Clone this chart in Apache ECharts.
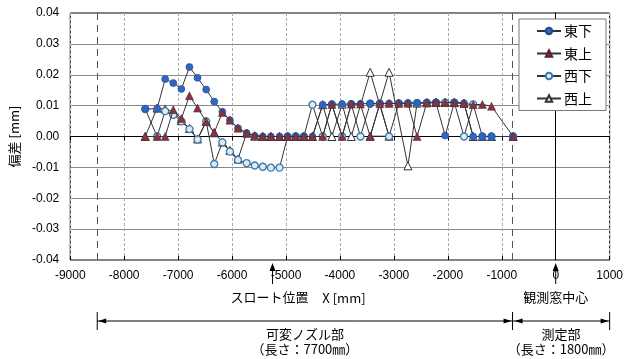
<!DOCTYPE html>
<html>
<head>
<meta charset="utf-8">
<script src="https://cdn.jsdelivr.net/npm/echarts@6/dist/echarts.min.js"></script>
<style>html,body{margin:0;padding:0;background:#fff}#c{width:626px;height:359px}</style>
</head>
<body>
<div id="c"></div>
<script>
// ---- data ----
const seriesNames = ['東下', '東上', '西下', '西上'];
const xPositions = [-7610,-7390,-7240,-7090,-6940,-6790,-6640,-6480,-6330,-6180,-6040,-5890,-5730,-5580,-5430,-5280,-5120,-4970,-4820,-4670,-4510,-4320,-4150,-3960,-3790,-3620,-3440,-3260,-3090,-2910,-2740,-2570,-2390,-2220,-2050,-1880,-1700,-1530,-1360,-1190,-790];
const eastLower = [0.0089,0.0090,0.0186,0.0173,0.0154,0.0225,0.0190,0.0152,0.0113,0.0080,0.0053,0.0027,0.0011,0.0002,0,0,0,0,0,0,0,0.0103,0.0104,0.0105,0.0105,0.0106,0.0107,0.0107,0.0107,0.0108,0.0108,0.0109,0.0110,0.0110,0.0003,0.0110,0.0108,0,0,0,0];
const eastUpper = [0,0,0,0.0087,0.0058,0.0132,0.0092,0.0049,0.0013,0.0078,0.0053,0.0027,0.0011,0.0003,0,0,0,0,0,0,0,0,0.0104,0,0.0105,0.0105,0,0.0106,0.0107,0.0107,0.0108,0,0.0110,0.0111,0.0111,0.0110,0.0107,0.0103,0.0104,0.0098,0];
const westLower = [0.0089,0,0.0082,0.0070,0.0049,0.0024,-0.0010,0.0049,-0.0089,-0.0019,-0.0049,-0.0076,-0.0086,-0.0094,-0.0098,-0.0101,-0.0101,0,0,0,0.0103,0,0.0104,0,0.0105,0,0.0106,0.0106,0,0.0107,0.0107,0.0108,0.0109,0.0110,0.0110,0.0110,0,0.0104,0,0,0];
const westUpperX = [-7610,-7390,-7240,-7090,-6940,-6790,-6640,-6480,-6330,-6180,-6040,-5890,-5730,-5580,-5430,-5280,-5120,-4970,-4820,-4670,-4510,-4320,-4150,-3960,-3790,-3440,-3090,-3440,-3090,-2740,-2570,-2390,-2220,-2050,-1880,-1700,-1530,-1360,-1190,-790];
const westUpperY = [0,0.0092,0.0089,0.0080,0.0052,0.0026,-0.0008,0.0049,0.0012,-0.0018,-0.0045,-0.0073,0.0011,0.0001,0,0,0,0,0,0,0,0.0103,0,0.0105,0,0.0208,0.0001,0.0001,0.0208,-0.0095,0.0108,0.0109,0.0110,0.0110,0.0110,0.0108,0,0,0,0];
const yTicks = [-0.04,-0.03,-0.02,-0.01,0,0.01,0.02,0.03,0.04];
const xTicks = [-9000,-8000,-7000,-6000,-5000,-4000,-3000,-2000,-1000,0,1000];
// annotation positions (mm)
const nozzleStart = -8500, nozzleEnd = -800, measureEnd = 1000;
const throatX = -5250, windowX = 0;

const pairs = (xs, ys) => xs.map((x, i) => [x, ys[i]]);
const NUM = 'Liberation Sans';
const JP = 'Noto Sans CJK JP';

const chart = echarts.init(document.getElementById('c'), null, {renderer: 'canvas'});
const lineStyle = {color: '#333', width: 1};

const option = {
  animation: false,
  backgroundColor: '#fff',
  grid: {left: 68, right: 12, top: 13, bottom: 99, show: true, borderColor: '#000', borderWidth: 1, backgroundColor: 'transparent'},
  legend: {
    orient: 'vertical', left: 519, top: 19,
    data: seriesNames,
    itemWidth: 24, itemHeight: 8, itemGap: 8.5,
    padding: [5, 14, 5, 17],
    backgroundColor: '#fff', borderColor: '#777', borderWidth: 1,
    textStyle: {fontFamily: JP, fontSize: 14, color: '#000', padding: [0, 0, 0, -2]}
  },
  xAxis: [{
    type: 'value', min: xTicks[0], max: xTicks[xTicks.length - 1], interval: 1000,
    position: 'bottom',
    axisLine: {onZero: false, show: false},
    axisTick: {show: false},
    axisLabel: {fontFamily: NUM, fontSize: 12, color: '#000', margin: 10, formatter: v => String(v)},
    splitLine: {show: true, lineStyle: {color: '#aaa', type: [3, 2], width: 1}},
    name: 'X [mm]', nameLocation: 'middle', nameGap: 32,
    nameTextStyle: {fontFamily: JP, fontSize: 13, color: '#000', padding: [0, 0, 0, 8]}
  }, {
    type: 'value', min: xTicks[0], max: xTicks[xTicks.length - 1], interval: 1000,
    position: 'bottom',
    axisLine: {onZero: true, show: true, lineStyle: {color: '#000', width: 1}},
    axisTick: {show: true, inside: false, length: 4, lineStyle: {color: '#000'}},
    axisLabel: {show: false}, splitLine: {show: false}
  }, {
    type: 'value', min: xTicks[0], max: xTicks[xTicks.length - 1], interval: 1000,
    position: 'bottom',
    axisLine: {onZero: true, show: false},
    axisTick: {show: true, inside: true, length: 4, lineStyle: {color: '#000'}},
    axisLabel: {show: false}, splitLine: {show: false}
  }],
  yAxis: {
    type: 'value', min: yTicks[0], max: yTicks[yTicks.length - 1], interval: 0.01,
    axisLine: {show: true, lineStyle: {color: '#000'}},
    axisTick: {show: false},
    axisLabel: {fontFamily: NUM, fontSize: 12, color: '#000', margin: 11, formatter: v => v.toFixed(2)},
    splitLine: {show: true, lineStyle: {color: '#888', width: 1}},
    name: '偏差 [mm]', nameLocation: 'middle', nameGap: 48, nameRotate: 90,
    nameTextStyle: {fontFamily: JP, fontSize: 13, color: '#000'}
  },
  series: [{
    name: seriesNames[0], type: 'line', data: pairs(xPositions, eastLower),
    symbol: 'circle', symbolSize: 7, lineStyle,
    itemStyle: {color: '#2f66c4', borderColor: '#23488a', borderWidth: 0.6},
    markLine: {
      silent: true, symbol: 'none', label: {show: false},
      lineStyle: {color: '#555', type: [7, 5], width: 1},
      data: [{xAxis: nozzleStart}, {xAxis: nozzleEnd}]
    },
    z: 4
  }, {
    name: seriesNames[1], type: 'line', data: pairs(xPositions, eastUpper),
    symbol: 'triangle', symbolSize: 8, lineStyle,
    itemStyle: {color: '#82343f', borderColor: '#5a2030', borderWidth: 0.5},
    z: 5
  }, {
    name: seriesNames[2], type: 'line', data: pairs(xPositions, westLower),
    symbol: 'circle', symbolSize: 7, lineStyle,
    itemStyle: {color: '#dfeaf3', borderColor: '#3c78ab', borderWidth: 1.3},
    z: 3
  }, {
    name: seriesNames[3], type: 'line', data: pairs(westUpperX, westUpperY),
    symbol: 'triangle', symbolSize: 8, lineStyle,
    itemStyle: {color: '#ffffff', borderColor: '#333', borderWidth: 1},
    z: 2
  }]
};
chart.setOption(option);

// ---- annotations below the plot, placed through the axis scales ----
const X = v => chart.convertToPixel({xAxisIndex: 0}, v);
const Y = v => chart.convertToPixel({yAxisIndex: 0}, v);
const yb = Y(yTicks[0]);
const els = [];
const stroke = {stroke: '#000', lineWidth: 1};
function arrowUp(x) {
  els.push({type: 'line', shape: {x1: x, y1: yb + 24, x2: x, y2: yb + 6}, style: stroke, z: 100});
  els.push({type: 'polygon', shape: {points: [[x - 3, yb + 11], [x + 3, yb + 11], [x, yb + 3]]}, style: {fill: '#000'}, z: 100});
}
function text(x, y, s, size) {
  els.push({type: 'text', x: x, y: y, style: {text: s, fontFamily: JP, fontSize: size || 13, fill: '#000', align: 'center', verticalAlign: 'middle'}, z: 100});
}
function head(x, y, dir) {
  els.push({type: 'polygon', shape: {points: [[x, y], [x - dir * 8, y - 2.5], [x - dir * 8, y + 2.5]]}, style: {fill: '#000'}, z: 100});
}
arrowUp(X(throatX));
arrowUp(X(windowX));
text(X(throatX) - 3, yb + 37, 'スロート位置');
text(X(windowX), yb + 37, '観測窓中心');

const yd = yb + 61;
const x1 = X(nozzleStart), x2 = X(nozzleEnd), x3 = X(measureEnd);
[x1, x2, x3].forEach(x => els.push({type: 'line', shape: {x1: x, y1: yd - 9, x2: x, y2: yd + 9}, style: stroke, z: 100}));
els.push({type: 'line', shape: {x1: x1, y1: yd, x2: x3, y2: yd}, style: stroke, z: 100});
head(x1 + 1, yd, -1); head(x2 - 1, yd, 1); head(x2 + 2, yd, -1); head(x3 - 1, yd, 1);
text((x1 + x2) / 2, yd + 13, '可変ノズル部');
text((x1 + x2) / 2, yd + 28, '（長さ：7700㎜）');
text((x2 + x3) / 2, yd + 13, '測定部');
text((x2 + x3) / 2, yd + 28, '（長さ：1800㎜）');
chart.setOption({graphic: els});
</script>
</body>
</html>
